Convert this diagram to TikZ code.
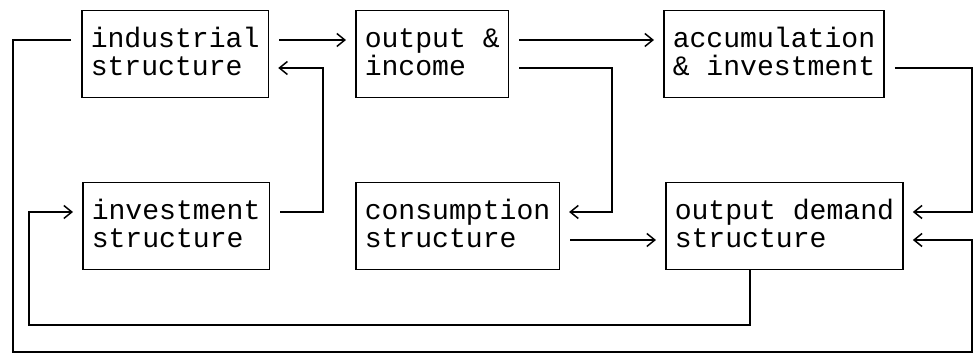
\documentclass[tikz,border=0pt]{standalone}
\usepackage{fontspec}
\setmonofont{Liberation Mono}
\usetikzlibrary{arrows.meta}
\newcommand{\rowstrut}{\rule[-0.12cm]{0pt}{0.54cm}}
\tikzset{
  stagebox/.style={
    draw,
    line width = 0.03cm,
    anchor = west,
    align = left,
    inner xsep = 0.18cm,
    inner ysep = 0,
    minimum height = 1.74cm,
    font = \ttfamily\fontsize{16}{15.9}\selectfont
  },
  flowline/.style={
    line width = 0.03cm,
    arrows = {-{Straight Barb[length=0.16cm, width=0.26cm]}},
    shorten < = 0.2cm,
    shorten > = 0.18cm
  }
}

\begin{document}
\begin{tikzpicture}
    \coordinate (bordernear) at (0, 0);
    \coordinate (borderfar) at (19.48, 7.08);
    \useasboundingbox (bordernear) rectangle (borderfar);
    \coordinate (industrialspot) at (1.62, 6.0);
    \coordinate (outputspot) at (7.10, 6.0);
    \coordinate (accumulationspot) at (13.26, 6.0);
    \coordinate (investmentspot) at (1.64, 2.56);
    \coordinate (consumptionspot) at (7.10, 2.56);
    \coordinate (demandspot) at (13.30, 2.56);
    \coordinate (bendinv) at (6.46, 5.72);
    \coordinate (bendout) at (12.24, 2.84);
    \coordinate (bendacc) at (19.44, 2.84);
    \coordinate (bendouter) at (19.44, 2.28);
    \coordinate (loopinner) at (0.58, 0.58);
    \coordinate (loopouter) at (0.26, 0.04);
    \node (industrial) at (industrialspot)[stagebox]{\rowstrut industrial\\\rowstrut structure};
    \node (output) at (outputspot)[stagebox]{\rowstrut output \&\\\rowstrut income};
    \node (accumulation) at (accumulationspot)[stagebox]{\rowstrut accumulation\\\rowstrut \& investment};
    \node (investment) at (investmentspot)[stagebox]{\rowstrut investment\\\rowstrut structure};
    \node (consumption) at (consumptionspot)[stagebox]{\rowstrut consumption\\\rowstrut structure};
    \node (demand) at (demandspot)[stagebox]{\rowstrut output demand\\\rowstrut structure};
    \draw[flowline] ([yshift=0.28cm]industrial.east) -- ([yshift=0.28cm]output.west);
    \draw[flowline] ([yshift=0.28cm]output.east) -- ([yshift=0.28cm]accumulation.west);
    \draw[flowline] ([yshift=0.28cm]investment.east) -| (bendinv) -- ([yshift=-0.28cm]industrial.east);
    \draw[flowline] ([yshift=-0.28cm]output.east) -| (bendout) -- ([yshift=0.28cm]consumption.east);
    \draw[flowline] ([yshift=-0.28cm]accumulation.east) -| (bendacc) -- ([yshift=0.28cm]demand.east);
    \draw[flowline] ([yshift=-0.28cm]consumption.east) -- ([yshift=-0.28cm]demand.west);
    \draw[flowline, shorten < = 0pt] ([xshift=-0.69cm]demand.south) |- (loopinner) |- ([yshift=0.28cm]investment.west);
    \draw[flowline] ([yshift=0.28cm]industrial.west) -| (loopouter) -| (bendouter) -- ([yshift=-0.28cm]demand.east);
\end{tikzpicture}
\end{document}
